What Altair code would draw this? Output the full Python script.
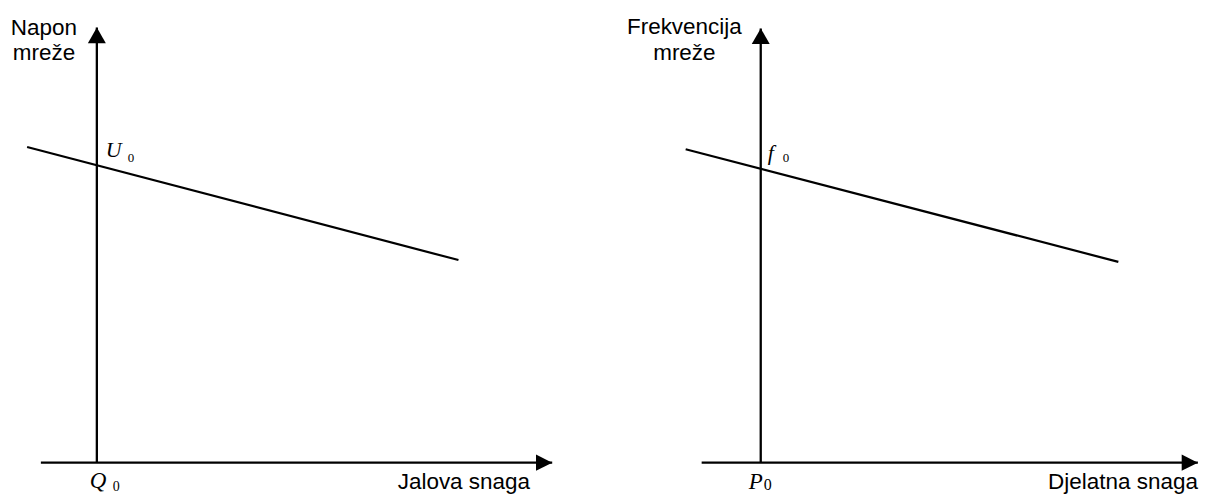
import altair as alt
import pandas as pd

# ---------------- data (panel units: vertical axis at x = 0, horizontal axis at y = 0)
# left panel: reactive power / grid voltage droop
q_axis = [-1.26, 10.25]        # horizontal axis: start, arrow tip
u_axis = [0.0, 9.58]           # vertical axis: foot, arrow tip
q_line_x = [-1.57, 8.14]
q_line_y = [6.95, 4.46]
u0 = 6.55
q0 = 0.0

# right panel: active power / grid frequency droop
p_axis = [-1.33, 9.84]
f_axis = [0.0, 9.56]
p_line_x = [-1.69, 8.05]
p_line_y = [6.90, 4.42]
f0 = 6.50
p0 = 0.0

left_titles = ["Napon\nmreže", "Jalova snaga"]
right_titles = ["Frekvencija\nmreže", "Djelatna snaga"]
left_symbols = ["U", "Q"]
right_symbols = ["f", "P"]
subscript = "0"

# ---------------- styling
PANEL_W = 527
XS = alt.Scale(domain=[-2, 9.843], nice=False, zero=False)
YS = alt.Scale(domain=[0, 10], nice=False, zero=False)
SANS = "Liberation Sans"
SERIF = "Liberation Serif"
INK = "#000000"
UP = "M0,0L-1,1.75L1,1.75Z"
RIGHT = "M0,0L-1.8,-0.9L-1.8,0.9Z"


def X(f):
    return alt.X(f, type="quantitative", scale=XS, axis=None)


def Y(f):
    return alt.Y(f, type="quantitative", scale=YS, axis=None)


def text_layer(x, y, txt, dx, dy, size, font, italic=False, align="left", line_height=None):
    df = pd.DataFrame({"x": [x], "y": [y], "t": [txt]})
    kw = dict(dx=dx, dy=dy, fontSize=size, font=font, align=align,
              baseline="alphabetic", color=INK)
    if italic:
        kw["fontStyle"] = "italic"
    if line_height:
        kw["lineHeight"] = line_height
        kw["lineBreak"] = "\n"
    return alt.Chart(df).mark_text(**kw).encode(x=X("x"), y=Y("y"), text="t:N")


def panel(hax, vax, lx, ly, level, origin, titles, symbols, off):
    hdf = pd.DataFrame({"x": [hax[0]], "x2": [hax[1]], "y": [origin]})
    vdf = pd.DataFrame({"x": [0.0], "y": [vax[0]], "y2": [vax[1]]})
    h_rule = alt.Chart(hdf).mark_rule(color=INK, strokeWidth=2.3).encode(
        x=X("x"), x2="x2", y=Y("y"))
    v_rule = alt.Chart(vdf).mark_rule(color=INK, strokeWidth=2.3).encode(
        x=X("x"), y=Y("y"), y2="y2")
    tip_r = alt.Chart(pd.DataFrame({"x": [hax[1]], "y": [origin]})).mark_point(
        shape=RIGHT, size=324, filled=True, color=INK, opacity=1, strokeWidth=0
    ).encode(x=X("x"), y=Y("y"))
    tip_u = alt.Chart(pd.DataFrame({"x": [0.0], "y": [vax[1]]})).mark_point(
        shape=UP, size=324, filled=True, color=INK, opacity=1, strokeWidth=0
    ).encode(x=X("x"), y=Y("y"))
    line = alt.Chart(pd.DataFrame({"x": lx, "y": ly})).mark_line(
        color=INK, strokeWidth=2.2).encode(x=X("x"), y=Y("y"))

    texts = [
        text_layer(0.0, vax[1], titles[0], off["yt"][0], off["yt"][1], 22.5, SANS,
                   align="center", line_height=off["yt"][2]),
        text_layer(hax[1], origin, titles[1], off["xt"][0], off["xt"][1], 22.5, SANS,
                   align="center"),
        text_layer(0.0, level, symbols[0], off["ys"][0], off["ys"][1], 22, SERIF, italic=True),
        text_layer(0.0, level, subscript, off["ysub"][0], off["ysub"][1], off["ysub"][2], SERIF),
        text_layer(0.0, origin, symbols[1], off["xs"][0], off["xs"][1], 23, SERIF, italic=True),
        text_layer(0.0, origin, subscript, off["xsub"][0], off["xsub"][1], off["xsub"][2], SERIF),
    ]
    return alt.layer(h_rule, v_rule, line, tip_r, tip_u, *texts).properties(
        width=PANEL_W, height=455)


left = panel(q_axis, u_axis, q_line_x, q_line_y, u0, q0, left_titles, left_symbols,
             {"yt": (-53, 8, 25), "xt": (-88.5, 26), "ys": (9, -8),
              "ysub": (31, -3, 13), "xs": (-7, 25), "xsub": (16, 28, 14)})
right = panel(p_axis, f_axis, p_line_x, p_line_y, f0, p0, right_titles, right_symbols,
              {"yt": (-76.5, 6, 26), "xt": (-75, 26), "ys": (7, -7),
               "ysub": (22, -5, 13), "xs": (-12, 26), "xsub": (3, 27, 16)})

chart = alt.hconcat(left, right, spacing=138, bounds="flush").properties(
    padding=0, background="white"
).configure_view(stroke=None)

chart.save("out.html", embed_options={"renderer": "svg", "actions": False})
